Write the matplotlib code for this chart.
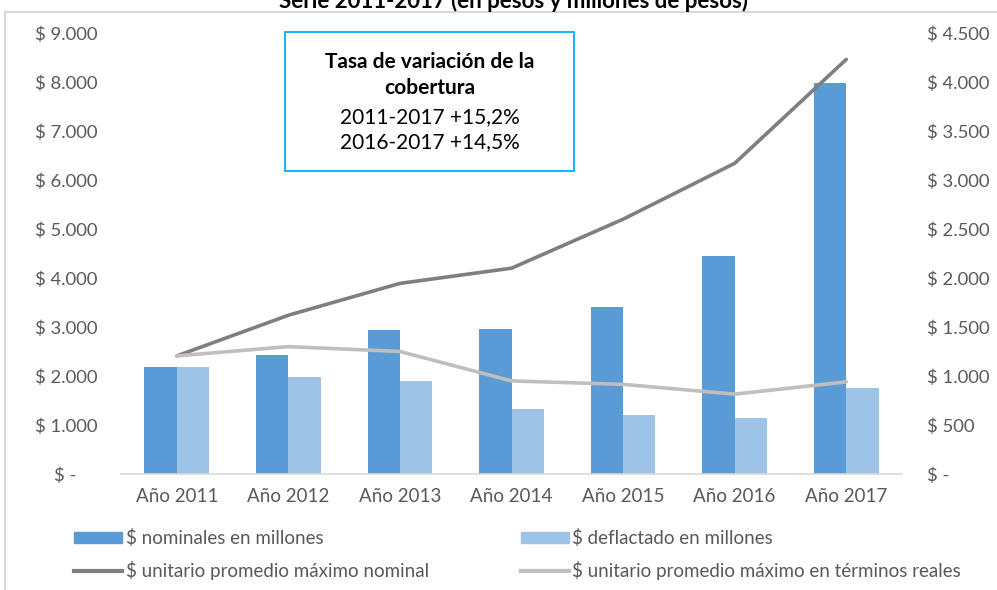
import matplotlib
matplotlib.use("Agg")
import matplotlib.pyplot as plt
import numpy as np
from matplotlib.lines import Line2D
from matplotlib.patches import Patch, Rectangle
from matplotlib.ticker import FuncFormatter, MultipleLocator

plt.rcParams["font.family"] = ["Lato", "DejaVu Sans"]

# values
years = ["Año 2011", "Año 2012", "Año 2013", "Año 2014", "Año 2015", "Año 2016", "Año 2017"]
nominal_mill = [2180, 2430, 2940, 2960, 3410, 4455, 7985]
deflated_mill = [2180, 1975, 1890, 1335, 1210, 1135, 1750]
unit_nominal = [1205, 1620, 1945, 2100, 2600, 3170, 4230]
unit_real = [1205, 1300, 1250, 950, 915, 815, 940]

box_lines = ["Tasa de variación de la", "cobertura", "2011-2017 +15,2%", "2016-2017 +14,5%"]

C_NOM = "#5B9BD5"
C_DEF = "#9DC3E6"
C_LNOM = "#7F7F7F"
C_LREAL = "#BFBFBF"
TXT = "#595959"


def money(v, pad_zero):
    if abs(v) < 1e-9:
        return "$ -\u2007\u2007" if pad_zero else "$ -"
    return "$ " + f"{v:,.0f}".replace(",", ".")


fig = plt.figure(figsize=(9.97, 5.90), dpi=100)
ax = fig.add_axes([121 / 997, 1 - 474 / 590, 781 / 997, 441 / 590])
ax2 = ax.twinx()

x = np.arange(len(years))
w = 0.29
ax.bar(x - w / 2, nominal_mill, width=w, color=C_NOM, zorder=2)
ax.bar(x + w / 2, deflated_mill, width=w, color=C_DEF, zorder=2)
ax2.plot(x, unit_nominal, color=C_LNOM, lw=2.6, solid_capstyle="round", zorder=3)
ax2.plot(x, unit_real, color=C_LREAL, lw=2.6, solid_capstyle="round", zorder=3)

ax.set_xlim(-0.5, len(years) - 0.5)
ax.set_ylim(0, 9000)
ax2.set_ylim(0, 4500)
ax.yaxis.set_major_locator(MultipleLocator(1000))
ax2.yaxis.set_major_locator(MultipleLocator(500))
ax.yaxis.set_major_formatter(FuncFormatter(lambda v, p: money(v, True)))
ax2.yaxis.set_major_formatter(FuncFormatter(lambda v, p: money(v, False)))

ax.set_xticks(x)
ax.set_xticklabels(years)
for a in (ax, ax2):
    for s in a.spines.values():
        s.set_visible(False)
    a.tick_params(length=0, colors=TXT, labelsize=13.3)
ax.spines["bottom"].set_visible(True)
ax.spines["bottom"].set_color("#D9D9D9")
ax.spines["bottom"].set_linewidth(1.2)
ax.tick_params(axis="y", pad=17)
ax.tick_params(axis="x", pad=10, labelsize=13.5)
ax2.tick_params(axis="y", pad=18)
ax2.set_zorder(ax.get_zorder() + 1)
ax.patch.set_visible(False)

# outer chart frame (cut by the page)
fig.add_artist(Line2D([5 / 997, 1], [1 - 12 / 590, 1 - 12 / 590], color="#D9D9D9", lw=1.5))
fig.add_artist(Line2D([5 / 997, 5 / 997], [0, 1 - 12 / 590], color="#D9D9D9", lw=1.5))

fig.text(513 / 997, 1 - 8 / 590, "Serie 2011-2017 (en pesos y millones de pesos)",
         ha="center", va="baseline", fontsize=16, fontweight="bold", color="black")

# annotation box
fig.add_artist(Rectangle((285 / 997, 1 - 171 / 590), 289 / 997, 139 / 590,
                         transform=fig.transFigure, fill=False, edgecolor="#00B0F0", lw=1.3))
box_y = [61.7, 88, 117, 142]
for i, (t, yy) in enumerate(zip(box_lines, box_y)):
    fig.text(429.5 / 997, 1 - yy / 590, t, ha="center", va="center", fontsize=15,
             fontweight="bold" if i < 2 else "normal", color="black")

handles = [
    Patch(color=C_NOM),
    Line2D([], [], color=C_LNOM, lw=3),
    Patch(color=C_DEF),
    Line2D([], [], color=C_LREAL, lw=3),
]
labels = [
    "$ nominales en millones",
    "$ unitario promedio máximo nominal",
    "$ deflactado en millones",
    "$ unitario promedio máximo en términos reales",
]
leg = fig.legend(handles, labels, ncol=2, loc="upper left",
                 bbox_to_anchor=(65 / 997, 1 - 520 / 590), frameon=False,
                 fontsize=13.5, labelcolor=TXT, handlelength=2.55, handleheight=0.5,
                 handletextpad=0.2, columnspacing=4.9, labelspacing=0.72, borderpad=0)

fig.savefig("out.png", dpi=100)
